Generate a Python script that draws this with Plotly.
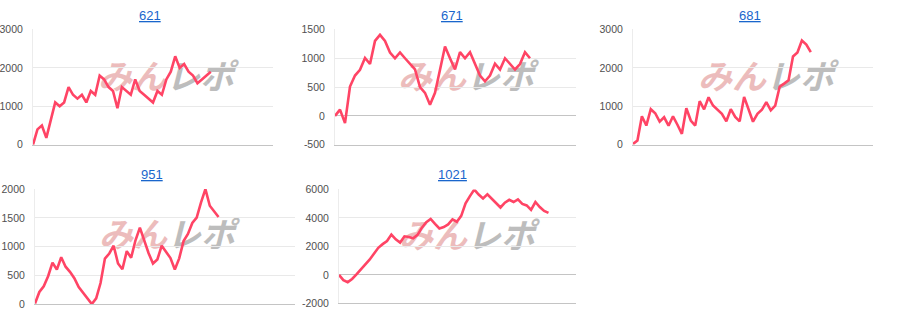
import plotly.graph_objects as go

titles = ["621", "671", "681", "951", "1021"]

s621 = [0, 400, 500, 180, 640, 1100, 1000, 1100, 1500, 1300, 1200, 1300, 1100, 1400, 1300, 1800, 1700, 1500, 1400, 950,
        1500, 1400, 1300, 1700, 1400, 1300, 1200, 1100, 1400, 1300, 1700, 1900, 2300, 2000, 2100, 1900, 1800, 1600, 1700, 1800, 1900]
s671 = [0, 110, -125, 510, 700, 800, 1005, 900, 1300, 1405, 1300, 1100, 1000, 1100, 1000, 900, 805, 500, 400, 195,
        400, 800, 1205, 1000, 805, 1105, 1000, 1105, 900, 700, 600, 700, 905, 805, 1000, 900, 805, 900, 1105, 1000]
s681 = [20, 110, 740, 500, 925, 820, 600, 715, 495, 740, 520, 285, 950, 630, 500, 1135, 920, 1235, 1020, 910, 805,
        610, 925, 725, 610, 1245, 905, 600, 805, 910, 1110, 895, 1020, 1510, 1590, 1680, 2295, 2400, 2710, 2605, 2410]
s951 = [10, 210, 310, 485, 720, 600, 815, 650, 560, 450, 295, 195, 105, 0, 100, 365, 790, 880, 1015, 705, 605, 920,
        805, 1110, 1330, 1095, 885, 705, 775, 1015, 915, 800, 600, 795, 1095, 1220, 1410, 1505, 1770, 2000, 1710, 1615, 1515]
s1021 = [0, -360, -505, -280, 45, 370, 690, 1070, 1480, 1905, 2160, 2380, 2830, 2495, 2270, 2710, 2665, 2575, 2810,
         3315, 3695, 3925, 3585, 3260, 3360, 3540, 3900, 3730, 4145, 5020, 5525, 5990, 5640, 5360, 5650, 5360, 5070,
         4730, 5070, 5270, 5115, 5295, 4985, 4875, 4560, 5115, 4765, 4485, 4350]

series = [s621, s671, s681, s951, s1021]
y_ticks = [
    [0, 1000, 2000, 3000],
    [-500, 0, 500, 1000, 1500],
    [0, 1000, 2000, 3000],
    [0, 500, 1000, 1500, 2000],
    [-2000, 0, 2000, 4000, 6000],
]
x_extent = [54, 48.2, 54, 59.5, 54.3]
watermark_a, watermark_b = "みん", "レポ"

W, H = 900, 330
boxes = [(33, 273, 24.3, 144), (335, 576, 24.3, 144), (633, 873, 24.3, 144),
         (35, 295, 190, 309.3), (339, 576, 190.3, 308.7)]
title_pos = [(150, 10), (452, 10), (750, 10), (152, 175), (452, 175)]
wm_pos = [(166, 76), (466, 76), (766, 76), (167, 240), (467, 241)]

LINE = "#ff4465"
fig = go.Figure()
layout = dict(width=W, height=H, margin=dict(l=0, r=0, t=0, b=0),
              paper_bgcolor="white", plot_bgcolor="rgba(0,0,0,0)",
              showlegend=False, annotations=[], shapes=[])

for i, (t, s) in enumerate(zip(titles, series)):
    k = "" if i == 0 else str(i + 1)
    l, r, tp, bt = boxes[i]
    fig.add_trace(go.Scatter(x=list(range(len(s))), y=s, mode="lines",
                             line=dict(color=LINE, width=2.6),
                             xaxis="x" + k, yaxis="y" + k, hoverinfo="skip"))
    yt = y_ticks[i]
    layout["xaxis" + k] = dict(domain=[l / W, r / W], range=[0, x_extent[i]],
                               showgrid=False, zeroline=False, showticklabels=False,
                               showline=True, linecolor="#c4c4c4", linewidth=1,
                               anchor="y" + k, fixedrange=True)
    layout["yaxis" + k] = dict(domain=[1 - bt / H, 1 - tp / H], range=[yt[0], yt[-1]],
                               tickvals=yt, ticktext=[str(v) for v in yt],
                               showgrid=True, gridcolor="#e9e9e9", gridwidth=1,
                               zeroline=True, zerolinecolor="#c4c4c4", zerolinewidth=1,
                               showline=True, linecolor="#ececec", linewidth=1,
                               ticks="", ticklabelstandoff=7,
                               tickfont=dict(family="Arial", size=10.5, color="#505050"),
                               anchor="x" + k, fixedrange=True)
    tx, ty = title_pos[i]
    layout["annotations"].append(dict(
        text="<u>" + t + "</u>", x=tx / W, y=1 - ty / H, xref="paper", yref="paper",
        showarrow=False, xanchor="center", yanchor="middle",
        font=dict(family="Arial", size=13, color="#1a66cc")))
    wx, wy = wm_pos[i]
    layout["shapes"].append(dict(
        type="rect", xref="paper", yref="paper", layer="below",
        x0=(wx - 72) / W, x1=(wx + 72) / W, y0=1 - (wy + 14) / H, y1=1 - (wy - 14) / H,
        line=dict(width=0), fillcolor="rgba(0,0,0,0)",
        label=dict(text="<b><span style='color:#ecbcbc'>" + watermark_a + "</span>"
                        "<span style='color:#bdbdbd'>" + watermark_b + "</span></b>",
                   textposition="middle center",
                   font=dict(family="Noto Sans CJK JP", size=34, color="#ecbcbc",
                             weight="bold", style="italic"))))

fig.update_layout(**layout)
fig.write_html("out.html")
